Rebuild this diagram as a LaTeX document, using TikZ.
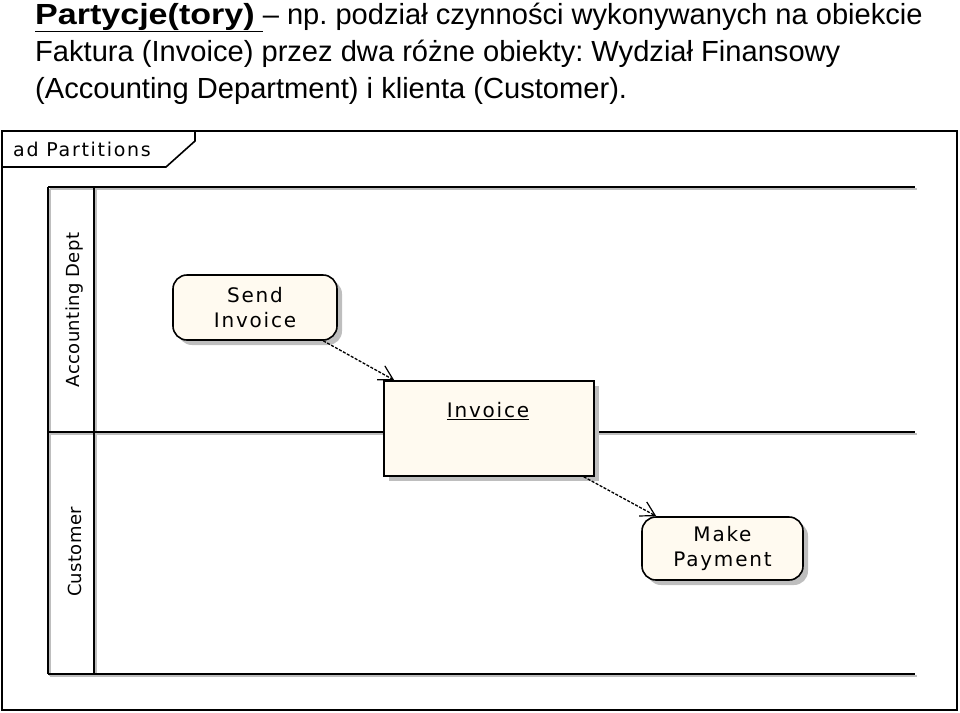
\documentclass[tikz,border=0pt]{standalone}
\usepackage{fontspec}
\usepackage{graphicx}
\setmainfont{Liberation Sans}
\newfontfamily\pixfont[LetterSpace=9]{DejaVu Sans}
\newfontfamily\lanefont[LetterSpace=2]{DejaVu Sans}
\usetikzlibrary{arrows.meta,shadows}
\definecolor{cream}{RGB}{255,250,240}
\definecolor{shadowgray}{RGB}{190,190,190}
\tikzset{
  titleline/.style={anchor=base west,inner sep=0pt,font=\fontsize{29.1}{32}\selectfont},
  actbox/.style={draw=black,line width=1.6pt,fill=cream,rounded corners=14pt,inner sep=0pt,
     drop shadow={shadow xshift=5pt,shadow yshift=-5pt,fill=shadowgray,opacity=1},
     font=\pixfont\fontsize{20}{25}\selectfont,align=center},
  objbox/.style={draw=black,line width=1.6pt,fill=cream,inner sep=0pt,
     drop shadow={shadow xshift=5pt,shadow yshift=-5pt,fill=shadowgray,opacity=1}},
  pixtext/.style={inner sep=0pt,font=\pixfont\fontsize{20}{25}\selectfont},
  lanetext/.style={inner sep=0pt,font=\lanefont\fontsize{18}{22}\selectfont},
  laneline/.style={line width=1.8pt,black},
  laneshadow/.style={line width=1.8pt,shadowgray},
  flow/.style={line width=1.3pt,dash pattern=on 3pt off 1.5pt,-{Straight Barb[length=14pt,width=16pt,line width=1.2pt]}},
}
\begin{document}
\frenchspacing
\begin{tikzpicture}[x=1pt,y=-1pt]
\useasboundingbox (0,0) rectangle (960,712);
% title
\node[titleline] (t1) at (35,24) {\underline{\scalebox{1.17}[1]{\textbf{Partycje(tory)}}\ }– np. podział czynności wykonywanych na obiekcie};
\node[titleline] (t2) at (35,61) {Faktura (Invoice) przez dwa różne obiekty: Wydział Finansowy};
\node[titleline] (t3) at (35,98) {(Accounting Department) i klienta (Customer).};
% frame
\draw[line width=2pt] (2,131) rectangle (957,710);
\draw[line width=1.6pt] (2,167) -- (166,167) -- (195,141) -- (195,131);
\node[lanetext,anchor=west,font=\pixfont\fontsize{19}{22}\selectfont] (frame) at (13,149) {ad Partitions};
% lanes shadows
\draw[laneshadow] (50,189) -- (917,189);
\draw[laneshadow] (50,434) -- (917,434);
\draw[laneshadow] (50,676) -- (917,676);
\draw[laneshadow] (50,189) -- (50,676);
\draw[laneshadow] (96,189) -- (96,676);
% lanes
\draw[laneline] (48,187) -- (915,187);
\draw[laneline] (48,432) -- (915,432);
\draw[laneline] (48,674) -- (915,674);
\draw[laneline] (48,187) -- (48,674);
\draw[laneline] (94,187) -- (94,674);
\node[lanetext,rotate=90] (lane1) at (75,310) {Accounting Dept};
\node[lanetext,rotate=90] (lane2) at (75,552) {Customer};
% nodes
\node[actbox,minimum width=164pt,minimum height=65pt] (send) at (255,307.5) {Send\\Invoice};
\node[objbox,minimum width=210pt,minimum height=95pt] (inv) at (489,428.5) {};
\node[pixtext] (invlbl) at (488,411) {\underline{Invoice}};
\node[actbox,minimum width=161pt,minimum height=63pt] (make) at (722.5,548.5) {Make\\Payment};
% flows
\draw[flow] (send.-26) -- (inv.153);
\draw[flow] (inv.-27) -- (make.154);
\end{tikzpicture}
\end{document}
